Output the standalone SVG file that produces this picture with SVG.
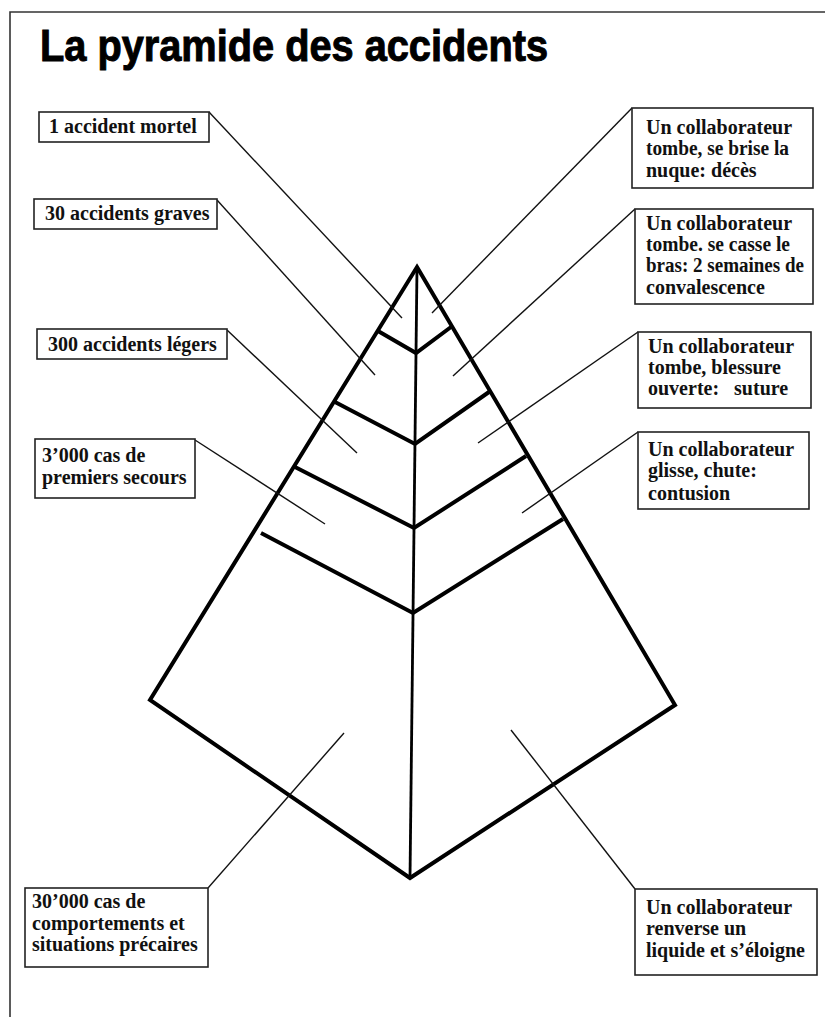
<svg xmlns="http://www.w3.org/2000/svg" width="825" height="1017" viewBox="0 0 825 1017">
<style>
.bg{fill:#fff}
.frame{fill:none;stroke:#333;stroke-width:1.6}
.box{fill:#fff;stroke:#222;stroke-width:1.6}
.lbl{font-family:"Liberation Serif","Times New Roman",serif;font-weight:bold;font-size:20px;fill:#111}
.title{font-family:"Liberation Sans",Arial,sans-serif;font-weight:bold;font-size:44px;fill:#000;stroke:#000;stroke-width:1}
.edge{fill:none;stroke:#000;stroke-width:4;stroke-linejoin:miter;stroke-linecap:round}
.axis{fill:none;stroke:#000;stroke-width:2.8}
.div{fill:none;stroke:#000;stroke-width:4;stroke-linejoin:miter;stroke-linecap:butt}
.lead{fill:none;stroke:#111;stroke-width:1.4}
</style>
<rect class="bg" x="0" y="0" width="825" height="1017"/>
<polyline class="frame" points="10,1017 10,12 825,12"/>
<text class="title" x="40" y="61" textLength="508" lengthAdjust="spacingAndGlyphs">La pyramide des accidents</text>

<g id="pyramid">
  <polygon class="edge" points="417,267 675,705 410,878 150,700"/>
  <line class="axis" x1="417" y1="267" x2="410" y2="878"/>
  <polyline class="div" points="378,331 416,353 451,327"/>
  <polyline class="div" points="335,402 415,444 489,392"/>
  <polyline class="div" points="295,467 414,528 526,456"/>
  <polyline class="div" points="261,533 413,613 563,519"/>
</g>

<g id="connectors">
  <line class="lead" x1="209" y1="112" x2="402" y2="318"/>
  <line class="lead" x1="217" y1="200" x2="375" y2="375"/>
  <line class="lead" x1="227" y1="330" x2="357" y2="453"/>
  <line class="lead" x1="195" y1="440" x2="325" y2="524"/>
  <line class="lead" x1="208" y1="888" x2="344" y2="733"/>
  <line class="lead" x1="632" y1="108" x2="432" y2="313"/>
  <line class="lead" x1="635" y1="209" x2="453" y2="376"/>
  <line class="lead" x1="638" y1="332" x2="478" y2="443"/>
  <line class="lead" x1="638" y1="432" x2="522" y2="513"/>
  <line class="lead" x1="635" y1="889" x2="511" y2="730"/>
</g>

<g id="n-mortel">
  <rect class="box" x="39" y="112" width="170" height="30"/>
  <text class="lbl" x="49" y="132.5">1 accident mortel</text>
</g>
<g id="n-graves">
  <rect class="box" x="34" y="199" width="183" height="30"/>
  <text class="lbl" x="45" y="220">30 accidents graves</text>
</g>
<g id="n-legers">
  <rect class="box" x="37" y="329" width="190" height="30"/>
  <text class="lbl" x="48" y="350.5">300 accidents légers</text>
</g>
<g id="n-secours">
  <rect class="box" x="35" y="439" width="160" height="59"/>
  <text class="lbl" x="42" y="462">3’000 cas de</text>
  <text class="lbl" x="42" y="484">premiers secours</text>
</g>
<g id="n-precaires">
  <rect class="box" x="25" y="888" width="183" height="79"/>
  <text class="lbl" x="32" y="907.5">30’000 cas de</text>
  <text class="lbl" x="32" y="929.5">comportements et</text>
  <text class="lbl" x="32" y="951">situations précaires</text>
</g>

<g id="n-deces">
  <rect class="box" x="632" y="108" width="181" height="80"/>
  <text class="lbl" x="646" y="133.5">Un collaborateur</text>
  <text class="lbl" x="646" y="155" textLength="143" lengthAdjust="spacingAndGlyphs">tombe, se brise la</text>
  <text class="lbl" x="646" y="176.5">nuque: décès</text>
</g>
<g id="n-bras">
  <rect class="box" x="635" y="209" width="178" height="95"/>
  <text class="lbl" x="646" y="230">Un collaborateur</text>
  <text class="lbl" x="646" y="251" textLength="144" lengthAdjust="spacingAndGlyphs">tombe. se casse le</text>
  <text class="lbl" x="646" y="272" textLength="158" lengthAdjust="spacingAndGlyphs">bras: 2 semaines de</text>
  <text class="lbl" x="646" y="293.5">convalescence</text>
</g>
<g id="n-suture">
  <rect class="box" x="638" y="332" width="173" height="76"/>
  <text class="lbl" x="648" y="353">Un collaborateur</text>
  <text class="lbl" x="648" y="374">tombe, blessure</text>
  <text class="lbl" x="648" y="395" xml:space="preserve">ouverte:   suture</text>
</g>
<g id="n-contusion">
  <rect class="box" x="638" y="432" width="171" height="77"/>
  <text class="lbl" x="648" y="455.5">Un collaborateur</text>
  <text class="lbl" x="648" y="477">glisse, chute:</text>
  <text class="lbl" x="648" y="499.5">contusion</text>
</g>
<g id="n-liquide">
  <rect class="box" x="635" y="889" width="182" height="86"/>
  <text class="lbl" x="646" y="913.5">Un collaborateur</text>
  <text class="lbl" x="646" y="935">renverse un</text>
  <text class="lbl" x="646" y="956.5">liquide et s’éloigne</text>
</g>
</svg>
